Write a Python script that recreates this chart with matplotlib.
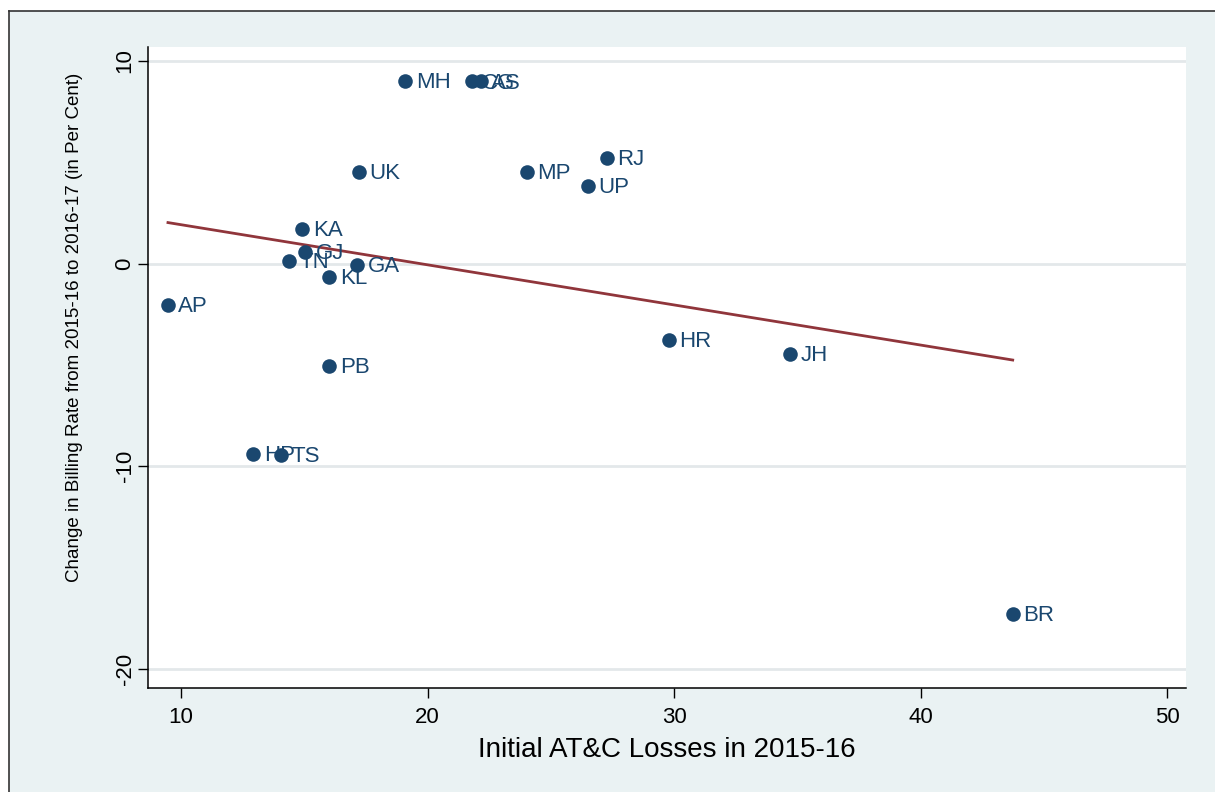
import matplotlib
matplotlib.use("Agg")
import matplotlib.pyplot as plt
from matplotlib import font_manager
from matplotlib.lines import Line2D
import numpy as np

# state codes with initial AT&C losses (x) and change in billing rate (y)
states = ["AP", "HP", "TS", "TN", "KA", "GJ", "KL", "PB", "GA", "UK",
          "MH", "CG", "AS", "MP", "UP", "RJ", "HR", "JH", "BR"]
losses = [9.47, 12.93, 14.07, 14.39, 14.92, 15.04, 16.02, 16.02, 17.15, 17.2,
          19.1, 21.79, 22.15, 24.02, 26.5, 27.28, 29.8, 34.72, 43.74]
billing_change = [-2.02, -9.37, -9.42, 0.15, 1.73, 0.59, -0.64, -5.03, -0.05, 4.54,
                  9.03, 9.0, 9.0, 4.54, 3.85, 5.23, -3.75, -4.44, -17.27]

x_ticks = [10, 20, 30, 40, 50]
y_ticks = [-20, -10, 0, 10]


def pick_font(names):
    for n in names:
        try:
            font_manager.findfont(n, fallback_to_default=False)
            return n
        except Exception:
            continue
    return "DejaVu Sans"


base_font = pick_font(["Liberation Sans", "Arial"])
plt.rcParams["font.family"] = [base_font, "DejaVu Sans"]

navy = "#1a476f"
maroon = "#90353b"
bg = "#eaf2f3"

fig = plt.figure(figsize=(12.15, 7.92), dpi=100)
fig.patch.set_facecolor("white")

# Stata-like graph region with a border on the top/left
fig.patches.append(plt.Rectangle((9 / 1215, 0), 1.0, 1 - 11 / 792, transform=fig.transFigure,
                                 facecolor=bg, edgecolor="none", zorder=-2))
fig.add_artist(Line2D([9 / 1215, 1.0], [1 - 11 / 792, 1 - 11 / 792], transform=fig.transFigure,
                      color="#333333", lw=1.2))
fig.add_artist(Line2D([9 / 1215, 9 / 1215], [0, 1 - 11 / 792], transform=fig.transFigure,
                      color="#333333", lw=1.2))

ax = fig.add_axes([148 / 1215, 1 - 688 / 792, (1186 - 148) / 1215, (688 - 47) / 792])
ax.set_facecolor("white")

ax.scatter(losses, billing_change, s=110, color=navy, zorder=3, linewidths=0)
for name, x, y in zip(states, losses, billing_change):
    ax.annotate(name, (x, y), xytext=(7.5, -1.5), textcoords="offset points",
                va="center", ha="left", fontsize=16, color=navy, zorder=4)

# linear fit over the observed range
slope, intercept = np.polyfit(losses, billing_change, 1)
xs = np.array([min(losses), max(losses)])
ax.plot(xs, intercept + slope * xs, color=maroon, lw=2, zorder=2)

ax.set_xlim(8.66, 50.77)
ax.set_ylim(-20.94, 10.69)
ax.set_xticks(x_ticks)
ax.set_yticks(y_ticks)
ax.set_yticklabels([str(v) for v in y_ticks], rotation=90, va="center")
ax.tick_params(axis="both", direction="out", length=7, width=1, colors="black",
               labelsize=16)
ax.tick_params(axis="y", pad=2)
ax.tick_params(axis="x", pad=7)
ax.grid(axis="y", color="#e3e8ea", lw=2)
ax.set_axisbelow(True)
for side in ["top", "right"]:
    ax.spines[side].set_visible(False)
for side in ["left", "bottom"]:
    ax.spines[side].set_linewidth(1.1)

ax.set_xlabel("Initial AT&C Losses in 2015-16", fontsize=20, labelpad=6)
ax.set_ylabel("Change in Billing Rate from 2015-16 to 2016-17 (in Per Cent)",
              fontsize=13.5)
ax.yaxis.set_label_coords(-0.063, 0.563)

fig.savefig("out.png", dpi=100)
